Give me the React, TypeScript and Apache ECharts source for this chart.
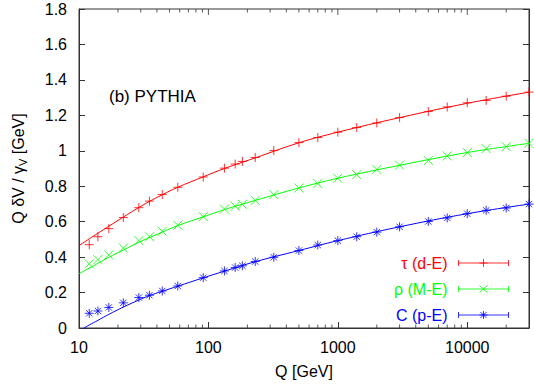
import React, { useEffect, useRef } from 'react';
import * as echarts from 'echarts';

// Energies Q [GeV] of the data points
const qValues = [12, 14, 17, 22, 29, 35, 44, 58, 91.2, 133, 161, 183, 230, 320, 500, 700, 1000, 1400, 2000, 3000, 5000, 7000, 10000, 14000, 20000, 30000];
// Q dV / gamma_V [GeV]
const tauValues = [0.47, 0.515, 0.561, 0.623, 0.679, 0.716, 0.753, 0.794, 0.852, 0.902, 0.925, 0.94, 0.962, 1.001, 1.046, 1.075, 1.105, 1.131, 1.157, 1.187, 1.222, 1.247, 1.271, 1.284, 1.308, 1.331];
const rhoValues = [0.362, 0.386, 0.412, 0.451, 0.493, 0.515, 0.546, 0.58, 0.628, 0.671, 0.687, 0.698, 0.72, 0.753, 0.79, 0.815, 0.845, 0.865, 0.895, 0.919, 0.945, 0.971, 0.99, 1.012, 1.023, 1.042];
const cValues = [0.083, 0.096, 0.116, 0.142, 0.172, 0.185, 0.209, 0.237, 0.284, 0.322, 0.341, 0.351, 0.375, 0.399, 0.437, 0.468, 0.493, 0.515, 0.541, 0.571, 0.601, 0.621, 0.645, 0.664, 0.677, 0.699];

// Fit curves
const tauFitQ = [10, 12, 14, 17, 22, 29, 35, 44, 58, 91.2, 133, 230, 500, 1000, 3000, 10000, 30000];
const tauFitValues = [0.465, 0.503, 0.535, 0.574, 0.626, 0.68, 0.714, 0.752, 0.794, 0.853, 0.9, 0.96, 1.045, 1.105, 1.187, 1.268, 1.331];
const rhoFitQ = [10, 12, 14, 17, 22, 29, 44, 58, 91.2, 133, 230, 500, 1000, 3000, 10000, 30000];
const rhoFitValues = [0.306, 0.338, 0.365, 0.399, 0.44, 0.484, 0.541, 0.578, 0.627, 0.668, 0.72, 0.79, 0.845, 0.918, 0.99, 1.042];
const cFitQ = [10, 12, 14, 17, 22, 29, 35, 44, 58, 91.2, 133, 230, 500, 1000, 3000, 10000, 30000];
const cFitValues = [-0.018, 0.017, 0.043, 0.077, 0.118, 0.158, 0.183, 0.207, 0.236, 0.283, 0.321, 0.374, 0.437, 0.493, 0.571, 0.645, 0.699];

const seriesNames = ['τ (d-E)', 'ρ (M-E)', 'C (p-E)'];
const seriesColors = ['#ff0000', '#00ff00', '#0000ff'];

const majorTickQ = [100, 1000, 10000];
const minorTickQ = [20, 30, 40, 50, 60, 70, 80, 90, 200, 300, 400, 500, 600, 700, 800, 900, 2000, 3000, 4000, 5000, 6000, 7000, 8000, 9000, 20000];

const xTickLabels = ['10', '100', '1000', '10000'];

const FONT = "'Liberation Sans', Arial, Helvetica, sans-serif";
const AXIS_COLOR = '#333333';

const plusPath = 'path://M0,5L10,5M5,0L5,10';
const crossPath = 'path://M0,0L10,10M10,0L0,10';
const starPath = 'path://M0,5L10,5M5,0L5,10M1.5,1.5L8.5,8.5M8.5,1.5L1.5,8.5';
const markerPaths = [plusPath, crossPath, starPath];

const legendIcons = [
  'path://M0,4L50,4M0,1L0,7M50,1L50,7M25,0L25,8M21,4L29,4',
  'path://M0,4L50,4M0,1L0,7M50,1L50,7M21,0.5L29,7.5M29,0.5L21,7.5',
  'path://M0,4L50,4M0,1L0,7M50,1L50,7M25,0L25,8M21,4L29,4M22,1L28,7M28,1L22,7',
];

function tickSeries(name: string, qs: number[], y: number, len: number, dir: number) {
  return {
    type: 'scatter',
    name,
    data: qs.map((q) => [q, y]),
    symbol: 'rect',
    symbolSize: [1, len],
    symbolOffset: [0, (dir * len) / 2],
    itemStyle: { color: AXIS_COLOR },
    clip: false,
    silent: true,
    z: 1,
  };
}

function App() {
  const ref = useRef<HTMLDivElement>(null);

  useEffect(() => {
    if (!ref.current) return;
    const chart = echarts.init(ref.current, null, { renderer: 'svg' });

    const pointData = [tauValues, rhoValues, cValues];
    const fitQ = [tauFitQ, rhoFitQ, cFitQ];
    const fitData = [tauFitValues, rhoFitValues, cFitValues];

    const fitSeries = fitData.map((vals, k) => ({
      type: 'line',
      name: seriesNames[k] + ' fit',
      data: vals.map((v, i) => [fitQ[k][i], v]),
      smooth: 0.4,
      showSymbol: false,
      symbol: 'none',
      clip: true,
      silent: true,
      lineStyle: { color: seriesColors[k], width: 1 },
      z: 2,
    }));

    const pointSeries = pointData.map((vals, k) => ({
      type: 'scatter',
      name: seriesNames[k],
      data: vals.map((v, i) => [qValues[i], v]),
      symbol: markerPaths[k],
      symbolSize: 9,
      itemStyle: { color: 'rgba(0,0,0,0)', borderColor: seriesColors[k], borderWidth: 1 },
      z: 3,
      silent: true,
    }));

    const ticks = [
      tickSeries('minorBottom', minorTickQ, 0, 3.5, -1),
      tickSeries('minorTop', minorTickQ, 1.8, 3.5, 1),
      tickSeries('majorTop', majorTickQ, 1.8, 6, 1),
    ];

    const xLabelFormatter = (v: number) => {
      const l = Math.log10(v);
      if (Math.abs(l - Math.round(l)) > 1e-6) return '';
      const s = String(Math.round(v));
      return xTickLabels.indexOf(s) >= 0 ? s : '';
    };

    chart.setOption({
      animation: false,
      backgroundColor: '#ffffff',
      textStyle: { fontFamily: FONT },
      grid: {
        left: 70,
        right: 5,
        top: 9,
        bottom: 52.5,
        containLabel: false,
        show: true,
        borderColor: AXIS_COLOR,
        borderWidth: 1,
        backgroundColor: 'rgba(0,0,0,0)',
      },
      xAxis: [
        {
          type: 'log',
          logBase: 10,
          min: 10,
          max: 30000,
          interval: 1,
          position: 'bottom',
          name: 'Q [GeV]',
          nameLocation: 'middle',
          nameGap: 35,
          nameTextStyle: { fontSize: 16, color: '#000', fontFamily: FONT },
          axisLine: { show: true, lineStyle: { color: AXIS_COLOR, width: 1 } },
          axisTick: { show: true, inside: true, length: 6, lineStyle: { color: AXIS_COLOR } },
          axisLabel: { show: true, margin: 11, fontSize: 16, color: '#000', fontFamily: FONT, formatter: xLabelFormatter, showMinLabel: true, showMaxLabel: true },
          splitLine: { show: false },
          minorTick: { show: false },
        },
      ],
      yAxis: [
        {
          type: 'value',
          min: 0,
          max: 1.8,
          interval: 0.2,
          position: 'left',
          name: 'Q δV / γ{sub|V} [GeV]',
          nameLocation: 'middle',
          nameRotate: 90,
          nameGap: 51,
          nameTextStyle: {
            fontSize: 16,
            color: '#000',
            fontFamily: FONT,
            lineHeight: 20,
            rich: {
              sub: { fontSize: 11, lineHeight: 11, verticalAlign: 'bottom', color: '#000', fontFamily: FONT },
            },
          },
          axisLine: { show: true, lineStyle: { color: AXIS_COLOR, width: 1 } },
          axisTick: { show: true, inside: true, length: 6, lineStyle: { color: AXIS_COLOR } },
          axisLabel: { show: true, margin: 12, fontSize: 16, color: '#000', fontFamily: FONT },
          splitLine: { show: false },
        },
        {
          type: 'value',
          min: 0,
          max: 1.8,
          interval: 0.2,
          position: 'right',
          axisLine: { show: true, lineStyle: { color: AXIS_COLOR, width: 1 } },
          axisTick: { show: true, inside: true, length: 6, lineStyle: { color: AXIS_COLOR } },
          axisLabel: { show: false },
          splitLine: { show: false },
        },
      ],
      legend: {
        orient: 'vertical',
        right: 25,
        top: 255,
        align: 'right',
        itemWidth: 50,
        itemHeight: 8,
        itemGap: 10,
        padding: 0,
        selectedMode: false,
        textStyle: { fontSize: 16, lineHeight: 16, fontFamily: FONT, padding: [0, 6, 0, 0] },
        itemStyle: { borderWidth: 1 },
        data: seriesNames.map((n, k) => ({
          name: n,
          icon: legendIcons[k],
          textStyle: { color: seriesColors[k] },
          itemStyle: { color: 'rgba(0,0,0,0)', borderColor: seriesColors[k], borderWidth: 1 },
        })),
      },
      graphic: [
        {
          type: 'text',
          left: 109,
          top: 88,
          style: { text: '(b) PYTHIA', fontSize: 17, fontFamily: FONT, fill: '#000' },
        },
      ],
      series: [...fitSeries, ...pointSeries, ...ticks],
    });

    return () => {
      chart.dispose();
    };
  }, []);

  return (
    <div
      ref={ref}
      style={{ position: 'fixed', left: 0, top: 0, width: 534, height: 384, background: '#fff' }}
    />
  );
}

export default App;
